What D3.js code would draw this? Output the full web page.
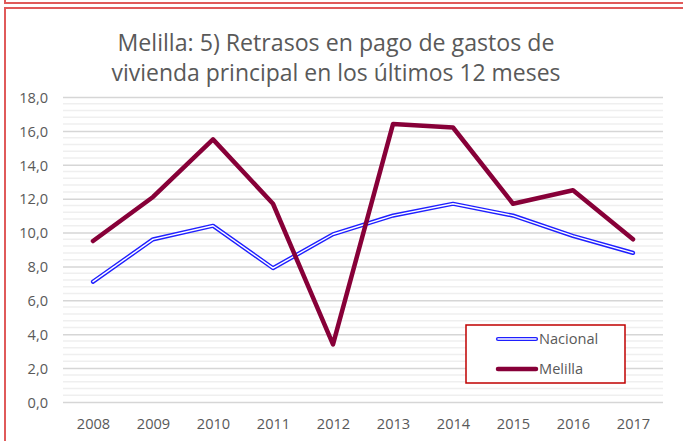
<!DOCTYPE html>
<html>
<head>
<meta charset="utf-8">
<script src="https://cdn.jsdelivr.net/npm/d3@7"></script>
<style>
  html, body { margin: 0; padding: 0; background: #fff; }
  svg { display: block; }
  text { font-family: "Open Sans", sans-serif; fill: #595959; }
</style>
</head>
<body>
<svg id="chart" width="683" height="441"></svg>
<script>
const years = ["2008","2009","2010","2011","2012","2013","2014","2015","2016","2017"];
const nacional = [7.1, 9.6, 10.4, 7.9, 9.9, 11.0, 11.7, 11.0, 9.8, 8.8];
const melilla  = [9.5, 12.1, 15.5, 11.7, 3.4, 16.4, 16.2, 11.7, 12.5, 9.6];
const yTicks = [0, 2, 4, 6, 8, 10, 12, 14, 16, 18];
const titleLines = ["Melilla: 5) Retrasos en pago de gastos de", "vivienda principal en los últimos 12 meses"];
const seriesNames = ["Nacional", "Melilla"];

const svg = d3.select("#chart");

// outer boxes
svg.append("rect").attr("x", 5).attr("y", -60).attr("width", 800).attr("height", 63)
  .attr("fill", "none").attr("stroke", "#e05a5a").attr("stroke-width", 2);
svg.append("rect").attr("x", 5).attr("y", 8).attr("width", 800).attr("height", 600)
  .attr("fill", "none").attr("stroke", "#e05a5a").attr("stroke-width", 2);

const x = d3.scalePoint().domain(years).range([63, 663]).padding(0.5);
const y = d3.scaleLinear().domain([0, 18]).range([402, 97]);

// minor gridlines
const minor = d3.range(0, 18.0001, 0.4).filter(v => Math.abs(v / 2 - Math.round(v / 2)) > 1e-6);
svg.append("g").selectAll("line").data(minor).join("line")
  .attr("x1", 63).attr("x2", 663)
  .attr("y1", d => y(d)).attr("y2", d => y(d))
  .attr("stroke", "#efefef").attr("stroke-width", 1.5);

// y axis
const yAxis = svg.append("g").attr("transform", "translate(63,0)")
  .call(d3.axisLeft(y).tickValues(yTicks).tickSize(-600)
    .tickFormat(d => d3.format(".1f")(d).replace(".", ",")));
yAxis.select(".domain").remove();
yAxis.selectAll(".tick line").attr("stroke", "#d6d6d6").attr("stroke-width", 1.5);
yAxis.selectAll(".tick text").attr("x", -15).attr("dy", "0.36em")
  .style("font-size", "14.6px").style("font-family", "'Open Sans', sans-serif").attr("fill", "#595959");

// x axis
const xAxis = svg.append("g").attr("transform", "translate(0,402)")
  .call(d3.axisBottom(x).tickSize(0));
xAxis.select(".domain").remove();
xAxis.selectAll(".tick text").attr("y", 27).attr("dy", "0")
  .style("font-size", "14.6px").style("font-family", "'Open Sans', sans-serif").attr("fill", "#595959");

// lines
const line = d3.line().x((d, i) => x(years[i])).y(d => y(d));
svg.append("path").datum(nacional).attr("d", line)
  .attr("fill", "none").attr("stroke", "#1f1fff").attr("stroke-width", 4.2).attr("stroke-linejoin", "round").attr("stroke-linecap", "round");
svg.append("path").datum(nacional).attr("d", line)
  .attr("fill", "none").attr("stroke", "#ffffff").attr("stroke-width", 1.4).attr("stroke-linejoin", "round").attr("stroke-linecap", "round");
svg.append("path").datum(melilla).attr("d", line)
  .attr("fill", "none").attr("stroke", "#870038").attr("stroke-width", 4.5).attr("stroke-linejoin", "round").attr("stroke-linecap", "round");

// title
const titleWidths = [437, 449];
const tg = svg.append("g");
titleLines.forEach((t, i) => {
  const el = tg.append("text").attr("x", 336).attr("y", 51 + i * 30)
    .attr("text-anchor", "middle").style("font-size", "22px").attr("fill", "#595959").text(t);
  const w = el.node().getComputedTextLength();
  el.style("font-size", (22 * titleWidths[i] / w).toFixed(2) + "px");
});

// legend
const lg = svg.append("g");
lg.append("rect").attr("x", 466).attr("y", 325).attr("width", 159).attr("height", 58)
  .attr("fill", "#fff").attr("stroke", "#c00000").attr("stroke-width", 1.5);
const ly = [339, 369];
lg.append("line").attr("x1", 498).attr("x2", 536).attr("y1", ly[0]).attr("y2", ly[0])
  .attr("stroke", "#1f1fff").attr("stroke-width", 4.2).attr("stroke-linecap", "round");
lg.append("line").attr("x1", 498).attr("x2", 536).attr("y1", ly[0]).attr("y2", ly[0])
  .attr("stroke", "#fff").attr("stroke-width", 1.4).attr("stroke-linecap", "round");
lg.append("line").attr("x1", 498).attr("x2", 536).attr("y1", ly[1]).attr("y2", ly[1])
  .attr("stroke", "#870038").attr("stroke-width", 4.5).attr("stroke-linecap", "round");
seriesNames.forEach((n, i) => {
  lg.append("text").attr("x", 539).attr("y", ly[i]).attr("dy", "0.36em")
    .style("font-size", "14.6px").attr("fill", "#595959").text(n);
});
</script>
</body>
</html>
